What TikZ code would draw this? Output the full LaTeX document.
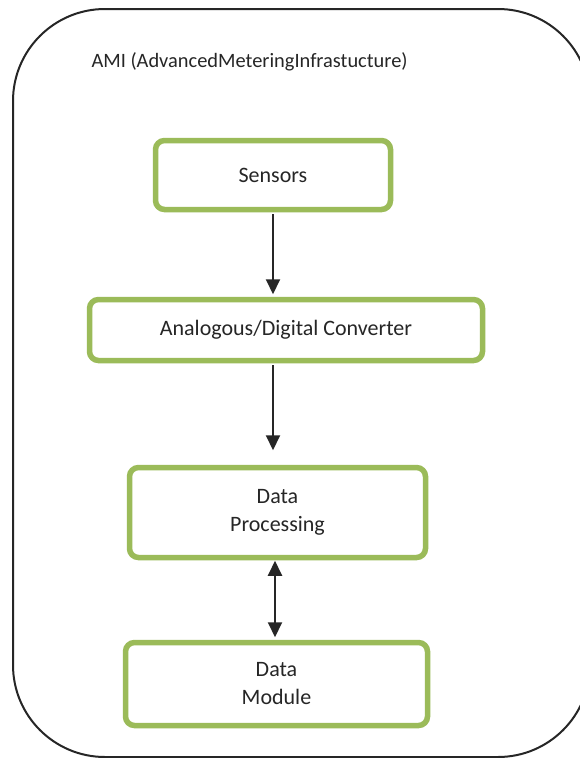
\documentclass[tikz,border=0pt]{standalone}
\usepackage{fontspec}
\setmainfont{Carlito}
\usetikzlibrary{arrows.meta}
\definecolor{boxgreen}{HTML}{9BBB59}
\definecolor{txt}{HTML}{262626}
\tikzset{
  greenbox/.style={draw=boxgreen, line width=5.5pt, rounded corners=9pt, fill=white,
    text=txt, font=\fontsize{22}{28}\selectfont, align=center, inner sep=0pt},
  arr/.style={draw=txt, line width=2pt, -{Triangle[width=14pt,length=15pt]}},
  darr/.style={draw=txt, line width=2pt, {Triangle[width=14pt,length=15pt]}-{Triangle[width=14pt,length=15pt]}},
}
\begin{document}
\begin{tikzpicture}[x=1pt,y=-1pt]
\useasboundingbox (0,0) rectangle (580,758);
\clip (0,0) rectangle (580,758);
\fill[white] (0,0) rectangle (580,758);
\draw[line width=2pt, draw=black!85, rounded corners=92pt] (13,9) rectangle (590,757);
\node[text=txt, font=\fontsize{20.4}{24}\selectfont, anchor=west] (title) at (88,62) {AMI (AdvancedMeteringInfrastucture)};
\node[greenbox, minimum width=235pt, minimum height=69pt] (sens) at (273,175) {Sensors};
\node[greenbox, minimum width=393pt, minimum height=61pt] (adc) at (286,330) {Analogous/Digital Converter};
\node[greenbox, minimum width=296pt, minimum height=90pt] (dp) at (277.5,512.5) {Data\\Processing};
\node[greenbox, minimum width=302pt, minimum height=83pt] (dm) at (276.5,684) {Data\\Module};
\draw[arr, shorten <=2pt, shorten >=2.5pt] (sens.south) -- (sens.south |- adc.north);
\draw[arr, shorten <=2pt, shorten >=14.5pt] (adc.south -| sens.south) -- (sens.south |- dp.north);
\draw[darr, shorten <=0.5pt, shorten >=2.5pt] ([xshift=-2.5pt]dp.south) -- ([xshift=-2.5pt]dp.south |- dm.north);
\end{tikzpicture}
\end{document}
